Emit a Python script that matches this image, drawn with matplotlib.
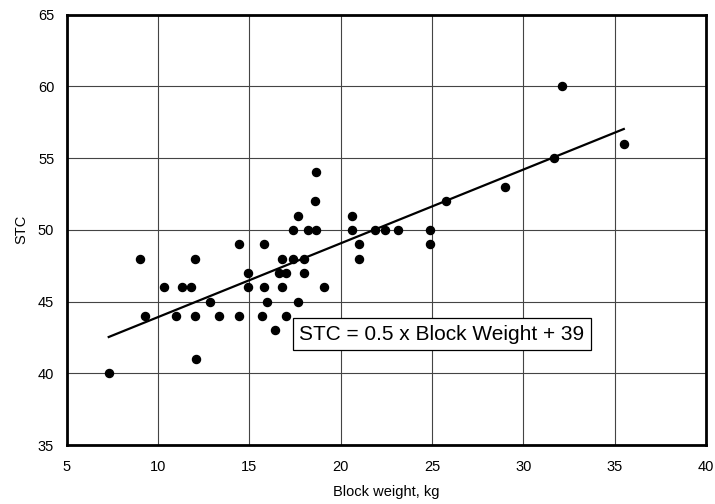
import numpy as np
import matplotlib.pyplot as plt

plt.rcParams['font.family'] = ['Liberation Sans', 'DejaVu Sans']

block_weight = [7.3, 9.0, 9.3, 10.3, 11.0, 11.3, 11.8, 12.0, 12.0, 12.1,
                12.85, 13.35, 14.45, 14.45, 14.95, 14.95, 15.8, 15.8, 15.7, 15.95,
                16.4, 16.6, 17.0, 16.8, 16.8, 17.0, 17.4, 17.4, 17.65, 17.65,
                18.0, 18.0, 18.2, 18.65, 18.6, 18.65, 19.1, 20.6, 20.6, 21.0,
                21.0, 21.9, 22.45, 23.15, 24.9, 24.9, 25.75, 29.0, 31.7, 32.1,
                35.5]
stc = [40, 48, 44, 46, 44, 46, 46, 48, 44, 41,
       45, 44, 49, 44, 47, 46, 49, 46, 44, 45,
       43, 47, 47, 48, 46, 44, 48, 50, 51, 45,
       48, 47, 50, 50, 52, 54, 46, 51, 50, 49,
       48, 50, 50, 50, 50, 49, 52, 53, 55, 60,
       56]

x = np.array(block_weight)
y = np.array(stc)
slope, intercept = np.polyfit(x, y, 1)

fig = plt.figure(figsize=(7.15, 5.04), dpi=100)
ax = fig.add_axes([0.0933, 0.117, 0.8941, 0.8538])

ax.plot(x, y, 'o', color='black', ms=5.8, zorder=3)
xs = np.array([x.min(), x.max()])
ax.plot(xs, slope * xs + intercept, color='black', lw=1.6, zorder=2)

ax.set_xlim(5, 40)
ax.set_ylim(35, 65)
ax.set_xticks(range(5, 41, 5))
ax.set_yticks(range(35, 66, 5))
ax.grid(True, color='#444444', lw=0.8)
ax.set_axisbelow(True)
ax.tick_params(axis='x', length=0, labelsize=10.5, pad=11)
ax.tick_params(axis='y', length=0, labelsize=10.5, pad=9)
for s in ax.spines.values():
    s.set_linewidth(2)

ax.set_xlabel('Block weight, kg', fontsize=10.5, labelpad=8)
ax.set_ylabel('STC', fontsize=10.5, labelpad=7)

ax.text(25.54, 42.73, 'STC = 0.5 x Block Weight + 39', fontsize=15,
        ha='center', va='center', zorder=4,
        bbox=dict(boxstyle='square,pad=0.3', fc='white', ec='black', lw=0.9))

fig.savefig('out.png', dpi=100)
